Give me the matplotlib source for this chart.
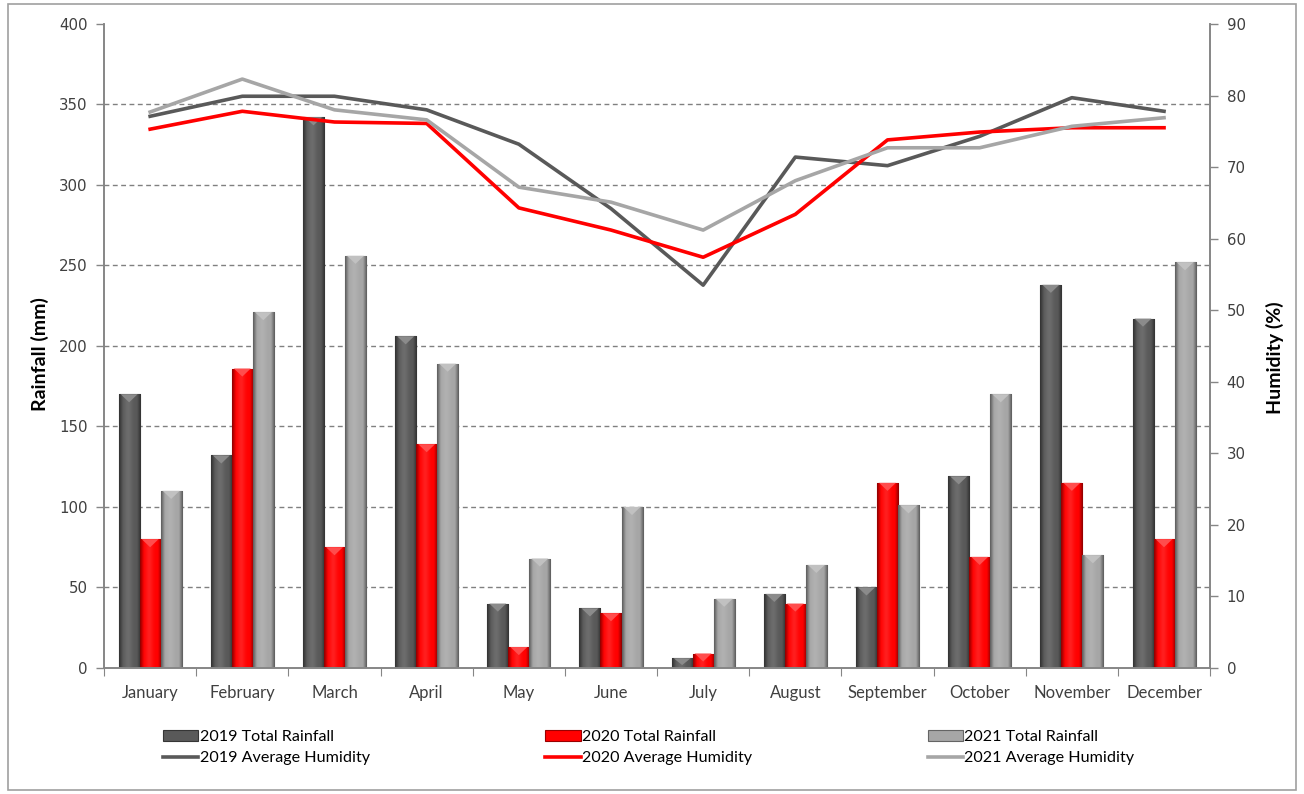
import numpy as np
import matplotlib.pyplot as plt
from matplotlib.colors import to_rgb
from matplotlib.patches import Polygon, Rectangle

months = ['January', 'February', 'March', 'April', 'May', 'June', 'July',
          'August', 'September', 'October', 'November', 'December']

# monthly total rainfall (mm)
rain_2019 = [170, 132, 342, 206, 40, 37, 6, 46, 50, 119, 238, 217]
rain_2020 = [80, 186, 75, 139, 13, 34, 9, 40, 115, 69, 115, 80]
rain_2021 = [110, 221, 256, 189, 68, 100, 43, 64, 101, 170, 70, 252]

# monthly average humidity (%)
hum_2019 = [77.1, 79.9, 79.9, 78.0, 73.2, 64.2, 53.5, 71.4, 70.2, 74.3, 79.7, 77.8]
hum_2020 = [75.3, 77.8, 76.3, 76.1, 64.3, 61.2, 57.4, 63.4, 73.8, 74.9, 75.5, 75.5]
hum_2021 = [77.7, 82.3, 78.0, 76.6, 67.2, 65.1, 61.2, 68.1, 72.7, 72.7, 75.7, 76.9]

bar_colors = ['#595959', '#ff0000', '#a6a6a6']
line_colors = ['#595959', '#ff0000', '#a6a6a6']
axis_grey = '#868686'
text_col = '#404040'
num_font = 'DejaVu Sans'
lab_font = 'Lato'


def bevel(ax, rect, color):
    # shade a bar so it looks like the excel bevel effect
    x0, w, h = rect.get_x(), rect.get_width(), rect.get_height()
    if h <= 0:
        return
    base = np.array(to_rgb(color))
    u = np.linspace(0, 1, 80)
    prof = np.ones_like(u)
    prof = np.where(u < 0.18, 0.55 + 0.45 * u / 0.18, prof)
    prof = np.where(u > 0.82, 0.55 + 0.45 * (1 - u) / 0.18, prof)
    shine = 0.12 * np.exp(-((u - 0.42) / 0.18) ** 2)
    img = base[None, :] * prof[:, None]
    img = img + (1 - img) * shine[:, None]
    img = np.clip(img, 0, 1)[None, :, :]
    im = ax.imshow(img, extent=(x0, x0 + w, 0, h), aspect='auto',
                   interpolation='bilinear', zorder=2.1)
    im.set_clip_path(rect)
    t = min(5.0, h * 0.7)
    light = base + (1 - base) * 0.3
    cap = Polygon([(x0 + w * 0.1, h), (x0 + w * 0.9, h), (x0 + w * 0.5, h - t)],
                  closed=True, facecolor=light, edgecolor='none', zorder=2.2)
    ax.add_patch(cap)


fig = plt.figure(figsize=(13.04, 7.94), dpi=100)
ax = fig.add_axes([0.0798, 0.1587, 0.8482, 0.8111])
ax2 = ax.twinx()

x = np.arange(len(months))
w = 0.228
rain = [rain_2019, rain_2020, rain_2021]
bar_labels = ['2019 Total Rainfall', '2020 Total Rainfall', '2021 Total Rainfall']
bar_handles = []
for i, (vals, col) in enumerate(zip(rain, bar_colors)):
    edge = np.array(to_rgb(col)) * 0.6
    bars = ax.bar(x + (i - 1) * w, vals, width=w, color=col, edgecolor=edge,
                  linewidth=0.8, zorder=2, label=bar_labels[i])
    for r in bars:
        bevel(ax, r, col)
    bar_handles.append(bars)

hum = [hum_2019, hum_2020, hum_2021]
line_labels = ['2019 Average Humidity', '2020 Average Humidity', '2021 Average Humidity']
line_handles = []
for vals, col, lab in zip(hum, line_colors, line_labels):
    ln, = ax2.plot(x, vals, color=col, lw=2.6, label=lab, zorder=3)
    line_handles.append(ln)

# left axis
ax.set_xlim(-0.5, 11.5)
ax.set_ylim(0, 400)
ax.set_yticks(np.arange(0, 401, 50))
ax.yaxis.grid(True, color='#808080', linestyle=(0, (3.5, 2.5)), linewidth=1)
ax.set_axisbelow(True)
gl = ax.get_ygridlines()
gl[0].set_visible(False)
gl[-1].set_visible(False)
ax.tick_params(axis='y', direction='out', length=6, width=1, color=axis_grey,
               labelsize=10.8, labelcolor=text_col, pad=6)
for lab in ax.get_yticklabels():
    lab.set_fontfamily(num_font)
ax.set_ylabel('Rainfall (mm)', fontsize=14, fontweight='bold', family=lab_font,
              color='black')
ax.yaxis.set_label_coords(-0.0497, 0.488)

# category axis: ticks between months, labels at centres
ax.set_xticks(np.arange(-0.5, 12, 1))
ax.set_xticklabels([])
ax.set_xticks(x, minor=True)
ax.set_xticklabels(months, minor=True, fontsize=12, family=lab_font, color=text_col)
ax.tick_params(axis='x', which='major', direction='out', length=6, color=axis_grey)
ax.tick_params(axis='x', which='minor', length=0, pad=12)

# right axis
ax2.set_ylim(0, 90)
ax2.set_yticks(np.arange(0, 91, 10))
ax2.tick_params(axis='y', direction='out', length=6, width=1, color=axis_grey,
                labelsize=10.8, labelcolor=text_col, pad=6)
for lab in ax2.get_yticklabels():
    lab.set_fontfamily(num_font)
ax2.set_ylabel('Humidity (%)', fontsize=14, fontweight='bold', family=lab_font,
               color='black', rotation=90)
ax2.yaxis.set_label_coords(1.0506, 0.482)

for a in (ax, ax2):
    a.spines['top'].set_visible(False)
    for s in ('left', 'right', 'bottom'):
        a.spines[s].set_color(axis_grey)
        a.spines[s].set_linewidth(1.2)

handles = []
labels = []
for b, l in zip(bar_handles, line_handles):
    handles += [b, l]
    labels += [b.get_label(), l.get_label()]
fig.legend(handles, labels, ncol=3, mode='expand', frameon=False,
           loc='lower left', bbox_to_anchor=(0.125, 0.036, 0.745, 0.06),
           prop={'family': lab_font, 'size': 11.6}, handlelength=2.2,
           handleheight=0.6, handletextpad=0.08, labelspacing=0.45,
           borderaxespad=0, borderpad=0)

fig.patches.append(Rectangle((0.006, 0.005), 0.988, 0.99, transform=fig.transFigure,
                             fill=False, edgecolor='#a0a0a0', linewidth=1.2))

fig.savefig('out.png', dpi=100)
